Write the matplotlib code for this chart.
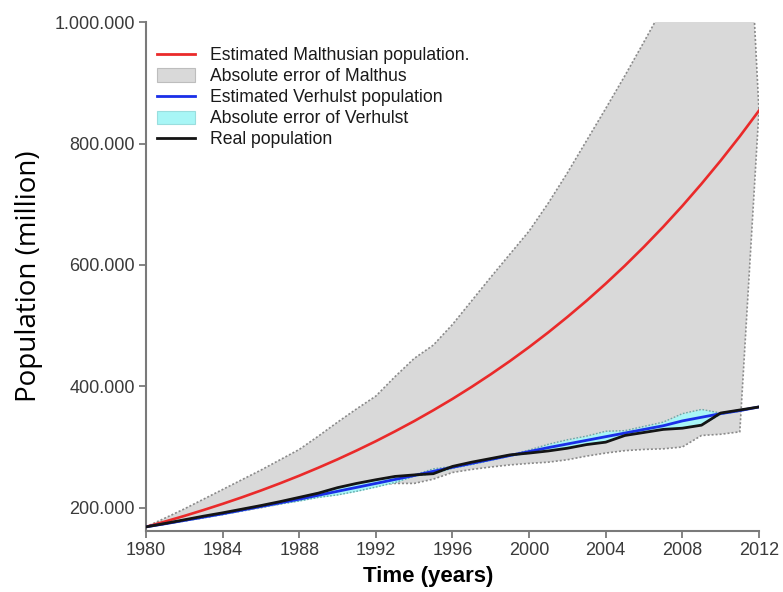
"""Malthus vs Verhulst population estimates against the real population, 1980-2012."""

import numpy as np
import matplotlib.pyplot as plt
from matplotlib.lines import Line2D
from matplotlib.patches import Patch
from matplotlib.ticker import FuncFormatter

# ── Data (thousands) ──────────────────────────────────────────────────────────
years = np.arange(1980, 2013)

real = [168.4, 174, 180, 186, 191.5, 197.5, 203.5, 210, 217, 224,
        233, 240, 246, 251.5, 254, 256, 268, 275, 281, 287,
        290, 293.5, 298, 304, 308, 319, 324, 329, 331, 336,
        356, 361, 366]

malthus = [168.4, 177.2, 186.4, 196.1, 206.3, 217.0, 228.3, 240.2, 252.7, 265.9,
           279.7, 294.3, 309.6, 325.8, 342.7, 360.6, 379.3, 399.1, 419.9, 441.7,
           464.7, 488.9, 514.4, 541.1, 569.3, 598.9, 630.1, 662.9, 697.4, 733.8,
           772.0, 812.1, 854.4]

verhulst = [168.4, 173.5, 179, 184.5, 190, 196, 202, 208, 214, 220.5,
            227, 233.5, 240, 246.5, 253, 260, 266.5, 273, 279.5, 286,
            292.5, 299, 305, 311, 317, 323, 329, 335, 343, 349,
            355, 360, 366]

malthus_err_hi = [168.4, 183, 198, 214, 230, 246, 262, 279, 296, 318,
                  341, 363, 384, 416, 446, 468, 502, 541, 580, 618,
                  656, 702, 752, 805, 858, 912, 968, 1025, 1080, 1140,
                  1200, 1480, 854.4]

malthus_err_lo = [168.4, 173, 178, 183.5, 189, 194.5, 200, 206, 212, 218,
                  227, 233, 238, 240, 240, 247, 258, 263, 267, 270.5,
                  273, 275, 279, 285, 290, 294, 296, 297, 300, 319,
                  321, 325, 854.4]

real = np.array(real) * 1000
malthus = np.array(malthus) * 1000
verhulst = np.array(verhulst) * 1000
malthus_err_hi = np.array(malthus_err_hi) * 1000
malthus_err_lo = np.array(malthus_err_lo) * 1000

# absolute error band of Verhulst: estimate ± |estimate - real|
verh_err = np.abs(verhulst - real)
verh_hi = verhulst + verh_err
verh_lo = verhulst - verh_err

# ── Style ─────────────────────────────────────────────────────────────────────
RED = "#ea2a2a"
BLUE = "#1a2fe8"
BLACK = "#141414"
GREY_FILL = "#d9d9d9"
CYAN_FILL = "#a8f6f6"
DOT = "#8a8a8a"
AXIS = "#7a7a7a"

plt.rcParams["font.family"] = ["Liberation Sans", "DejaVu Sans"]

fig = plt.figure(figsize=(7.83, 5.92), dpi=100)
ax = fig.add_axes([0.1865, 0.1035, 0.7828, 0.8588])

# Malthus error band
ax.fill_between(years, malthus_err_lo, malthus_err_hi, color=GREY_FILL, lw=0, zorder=1)
ax.plot(years, malthus_err_hi, color=DOT, ls=(0, (1.2, 1.2)), lw=1.2, zorder=2)
ax.plot(years, malthus_err_lo, color=DOT, ls=(0, (1.2, 1.2)), lw=1.2, zorder=2)

# Verhulst error band
ax.fill_between(years, verh_lo, verh_hi, color=CYAN_FILL, lw=0, zorder=3)
ax.plot(years, verh_hi, color="#6aa8a8", ls=(0, (1.2, 1.2)), lw=1.0, zorder=3)
ax.plot(years, verh_lo, color="#6aa8a8", ls=(0, (1.2, 1.2)), lw=1.0, zorder=3)

ax.plot(years, malthus, color=RED, lw=1.9, zorder=5)
ax.plot(years, verhulst, color=BLUE, lw=2, zorder=6)
ax.plot(years, real, color=BLACK, lw=2, zorder=7)

# ── Axes ──────────────────────────────────────────────────────────────────────
ax.set_xlim(1980, 2012)
ax.set_ylim(162000, 1000000)
ax.set_xticks(np.arange(1980, 2013, 4))
ax.set_yticks([200000, 400000, 600000, 800000, 1000000])
ax.yaxis.set_major_formatter(FuncFormatter(lambda v, _: f"{v:,.0f}".replace(",", ".")))

for side in ("top", "right"):
    ax.spines[side].set_visible(False)
for side in ("left", "bottom"):
    ax.spines[side].set_color(AXIS)
    ax.spines[side].set_linewidth(1.5)
ax.tick_params(direction="out", length=5, width=1.3, color=AXIS,
               labelsize=13, labelcolor="#3a3a3a", pad=3)

ax.set_xlabel("Time (years)", fontsize=16, fontweight="bold", color="black", labelpad=5)
ax.xaxis.set_label_coords(0.46, -0.07)
ax.set_ylabel("Population (million)", fontsize=20, family=["Open Sans", "DejaVu Sans"],
              color="black", labelpad=8)

handles = [
    Line2D([0], [0], color=RED, lw=2),
    Patch(facecolor=GREY_FILL, edgecolor="#bdbdbd", lw=0.8),
    Line2D([0], [0], color=BLUE, lw=2),
    Patch(facecolor=CYAN_FILL, edgecolor="#9adede", lw=0.8),
    Line2D([0], [0], color=BLACK, lw=2),
]
labels = ["Estimated Malthusian population.", "Absolute error of Malthus",
          "Estimated Verhulst population", "Absolute error of Verhulst",
          "Real population"]
ax.legend(handles, labels, loc="upper left", bbox_to_anchor=(0.018, 0.951),
          frameon=False, fontsize=12.7, borderpad=0, borderaxespad=0,
          labelspacing=0.23, handlelength=2.16, handleheight=0.8,
          handletextpad=0.85, labelcolor="#1a1a1a")

plt.savefig("out.png", dpi=100)
